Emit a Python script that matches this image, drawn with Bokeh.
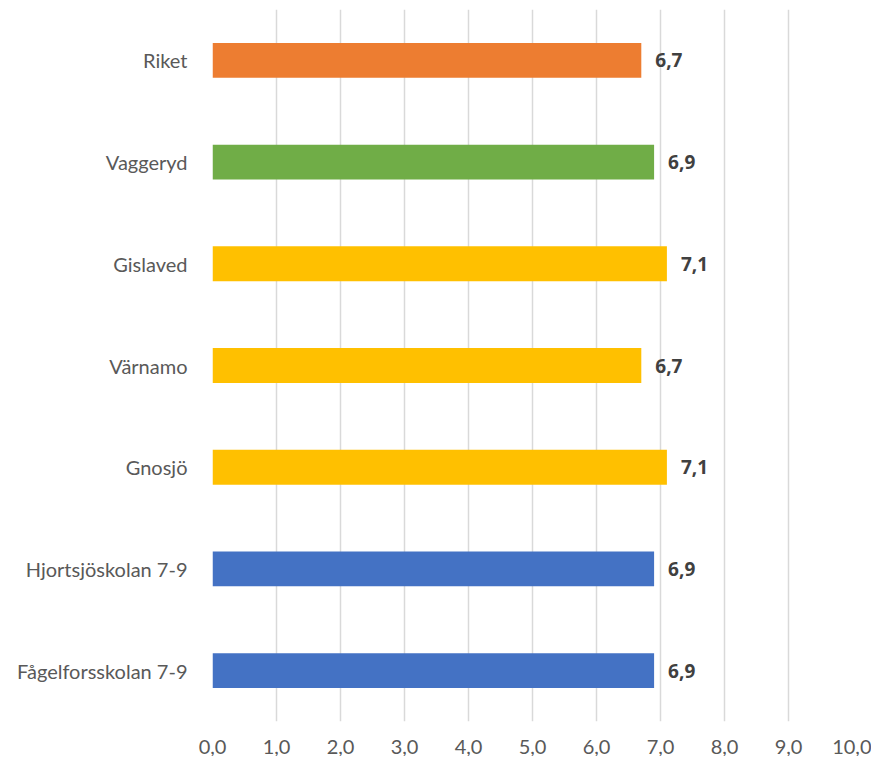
from bokeh.plotting import figure
from bokeh.models import ColumnDataSource, FactorRange, Range1d, FixedTicker, LabelSet
from bokeh.core.properties import value
from bokeh.embed import file_html
from bokeh.resources import INLINE

categories = ["Riket", "Vaggeryd", "Gislaved", "Värnamo", "Gnosjö",
              "Hjortsjöskolan 7-9", "Fågelforsskolan 7-9"]
values = [6.7, 6.9, 7.1, 6.7, 7.1, 6.9, 6.9]
colors = ["#ED7D31", "#70AD47", "#FFC000", "#FFC000", "#FFC000", "#4472C4", "#4472C4"]
tick_values = [0, 1, 2, 3, 4, 5, 6, 7, 8, 9, 10]
tick_labels = ["0,0", "1,0", "2,0", "3,0", "4,0", "5,0", "6,0", "7,0", "8,0", "9,0", "10,0"]

labels = [f"{v:.1f}".replace(".", ",") for v in values]
src = ColumnDataSource(dict(cat=categories, val=values, col=colors, lab=labels))

FONT = "Lato"

p = figure(y_range=FactorRange(*reversed(categories), range_padding=0),
           x_range=Range1d(0, 10),
           width=871, height=756, output_backend="svg", toolbar_location=None,
           min_border_left=212, min_border_right=19, min_border_top=9, min_border_bottom=30)
p.outline_line_color = None
p.background_fill_color = "white"

p.hbar(y="cat", right="val", left=0, height=0.343, fill_color="col", line_color=None, source=src)

ls = LabelSet(x="val", y="cat", text="lab", source=src, x_offset=14,
              text_baseline="middle", text_align="left",
              text_font=value("Open Sans"), text_font_size="19px", text_font_style="bold",
              text_color="#404040")
p.add_layout(ls)

p.xaxis.ticker = FixedTicker(ticks=tick_values)
p.xaxis.major_label_overrides = {t: l for t, l in zip(tick_values, tick_labels)}
p.xaxis.axis_line_color = None
p.xaxis.major_tick_line_color = None
p.xaxis.minor_tick_line_color = None
p.xaxis.major_label_text_font = FONT
p.xaxis.major_label_text_font_size = "20px"
p.xaxis.major_label_text_color = "#595959"
p.xaxis.major_label_standoff = 12

p.yaxis.axis_line_color = None
p.yaxis.major_tick_line_color = None
p.yaxis.major_label_text_font = FONT
p.yaxis.major_label_text_font_size = "20px"
p.yaxis.major_label_text_color = "#595959"
p.yaxis.major_label_standoff = 19

p.xgrid.grid_line_color = "#D9D9D9"
p.xgrid.grid_line_width = 1.5
p.ygrid.grid_line_color = None

open("out.html", "w").write(file_html(p, INLINE))
